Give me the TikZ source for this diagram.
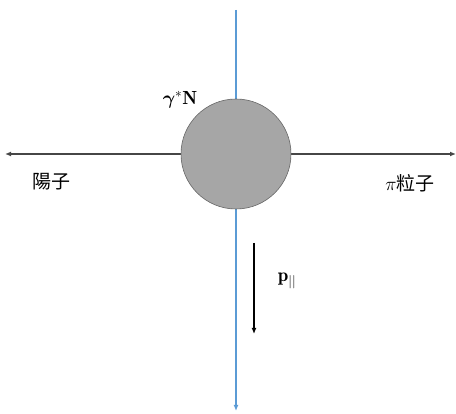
\RequirePackage{fix-cm}
\documentclass[tikz,border=0pt]{standalone}
\usepackage{fontspec}
\usepackage{amsmath,bm}
\newfontfamily\cjk{Noto Sans CJK TC}
\usetikzlibrary{arrows.meta}
\definecolor{axisblue}{RGB}{91,155,213}
\definecolor{ballgray}{RGB}{166,166,166}
\definecolor{linegray}{RGB}{70,70,70}
\begin{document}
\begin{tikzpicture}[x=1pt,y=-1pt,
  lbl/.style={inner sep=0pt, font=\fontsize{19}{21}\selectfont},
  hline/.style={draw=linegray, line width=1.5pt, -{Latex[length=6pt,width=5pt]}},
  vline/.style={draw=axisblue, line width=1.4pt, -{Latex[length=6pt,width=5pt]}}]
\useasboundingbox (0,0) rectangle (456,414);
\coordinate (top) at (236,10);
\coordinate (bot) at (236,411);
\coordinate (lft) at (5,154);
\coordinate (rgt) at (456,154);
\coordinate (ctr) at (236,154);
\coordinate (ps) at (254,243);
\coordinate (pe) at (254,334);
\draw[vline] (top) -- (bot);
\draw[hline] (ctr) -- (lft);
\draw[hline] (ctr) -- (rgt);
\node[circle, minimum size=110pt, inner sep=0pt, fill=ballgray, draw=gray!80!black, line width=0.6pt] (ball) at (ctr) {};
\draw[draw=black, line width=1.2pt, -{Latex[length=6pt,width=5pt]}] (ps) -- (pe);
\node[lbl] (proton) at (51,182) {\cjk 陽子};
\node[lbl] (pion) at (410,183) {$\pi$\cjk 粒子};
\node[lbl] (gn) at (180,100) {$\bm{\gamma}^{*}\mathbf{N}$};
\node[lbl] (pp) at (287,281) {$\mathbf{p}_{||}$};
\end{tikzpicture}
\end{document}
